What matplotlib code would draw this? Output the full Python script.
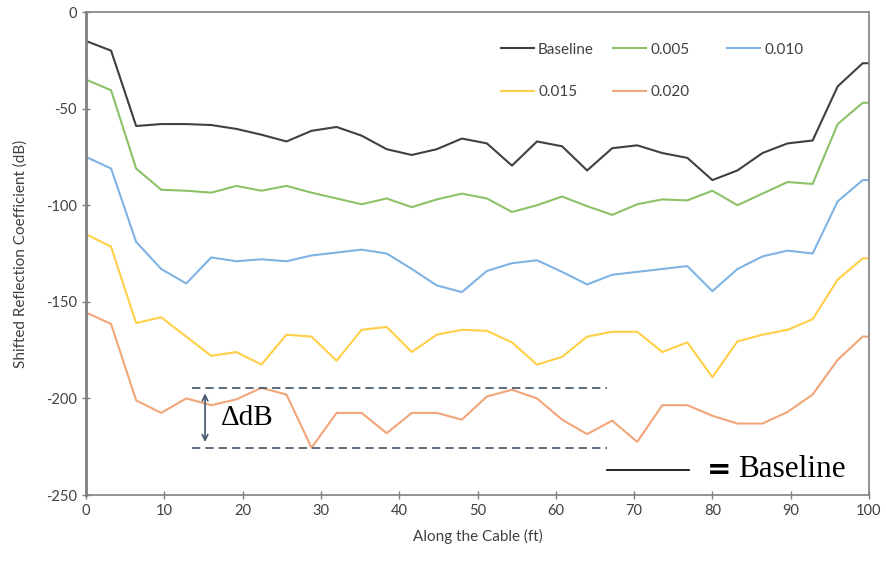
import numpy as np
import matplotlib.pyplot as plt

plt.rcParams['font.family'] = ['Lato', 'DejaVu Sans']
plt.rcParams['axes.unicode_minus'] = False

# distance along the cable (ft)
dist = [0, 3.2, 6.4, 9.6, 12.8, 16, 19.2, 22.4, 25.6, 28.8, 32, 35.2, 38.4,
        41.6, 44.8, 48, 51.2, 54.4, 57.6, 60.8, 64, 67.2, 70.4, 73.6, 76.8,
        80, 83.2, 86.4, 89.6, 92.8, 96, 99.2, 100]

# shifted reflection coefficient (dB)
baseline = [-15, -20, -59, -58, -58, -58.5, -60.5, -63.5, -67, -61.5, -59.5,
            -64, -71, -74, -71, -65.5, -68, -79.5, -67, -69.5, -82, -70.5,
            -69, -73, -75.5, -87, -82, -73, -68, -66.5, -38.5, -26.5, -26.5]
c005 = [-35, -40.5, -81, -92, -92.5, -93.5, -90, -92.5, -90, -93.5, -96.5,
        -99.5, -96.5, -101, -97, -94, -96.5, -103.5, -100, -95.5, -100.5,
        -105, -99.5, -97, -97.5, -92.5, -100, -94, -88, -89, -58, -47, -47]
c010 = [-75, -81, -119, -133, -140.5, -127, -129, -128, -129, -126, -124.5,
        -123, -125, -133, -141.5, -145, -134, -130, -128.5, -134.5, -141,
        -136, -134.5, -133, -131.5, -144.5, -133, -126.5, -123.5, -125,
        -98, -87, -87]
c015 = [-115, -121.5, -161, -158, -168, -178, -176, -182.5, -167, -168, -180.5,
        -164.5, -163, -176, -167, -164.5, -165, -171, -182.5, -178.5, -168,
        -165.5, -165.5, -176, -171, -189, -170.5, -167, -164.5, -159,
        -138.5, -127.5, -127.5]
c020 = [-155.5, -161.5, -201, -207.5, -200, -203.5, -200.5, -194.5, -198,
        -225.5, -207.5, -207.5, -218, -207.5, -207.5, -211, -199, -195.5,
        -200, -211, -218.5, -211.5, -222.5, -203.5, -203.5, -209, -213,
        -213, -207, -198, -180, -168, -168]

series = [
    ('Baseline', baseline, '#404040'),
    ('0.005', c005, '#8cc168'),
    ('0.010', c010, '#7fb3e3'),
    ('0.015', c015, '#ffcf47'),
    ('0.020', c020, '#f2a579'),
]

# range marked by the dashed guides
d_top = -194.5
d_bot = -225.5

fig = plt.figure(figsize=(8.86, 5.64), dpi=100)
ax = fig.add_axes([0.0971, 0.1223, 0.8837, 0.8564])

lines = {}
for name, vals, col in series:
    ln, = ax.plot(dist, vals, color=col, lw=1.5, label=name)
    lines[name] = ln

ax.set_xlim(0, 100)
ax.set_ylim(-250, 0)
ax.set_xticks(np.arange(0, 101, 10))
ax.set_yticks(np.arange(-250, 1, 50))
ax.tick_params(direction='inout', length=6, width=1, color='#808080',
               labelsize=10.5, labelcolor='#404040')
for s in ax.spines.values():
    s.set_color('#808080')
    s.set_linewidth(1.2)
ax.spines['left'].set_linewidth(2)

ax.set_xlabel('Along the Cable (ft)', fontsize=11, color='#404040', labelpad=8)
ax.set_ylabel('Shifted Reflection Coefficient (dB)', fontsize=11,
              color='#404040', labelpad=13)

# legend laid out in equal-width columns, filled row by row
cols = [['Baseline', '0.015'], ['0.005', '0.020'], ['0.010']]
col_x = [0.512, 0.6556, 0.8011]
for i, (names, x0) in enumerate(zip(cols, col_x)):
    leg = ax.legend([lines[k] for k in names], names, frameon=False,
                    loc='upper left', bbox_to_anchor=(x0, 0.965), fontsize=11,
                    handlelength=2.15, handletextpad=0.3, labelspacing=1.85,
                    labelcolor='#404040')
    if i < len(cols) - 1:
        ax.add_artist(leg)

# delta dB annotation
ax.hlines([d_top, d_bot], 13.5, 66.5, colors='#44546a', linestyles=(0, (5, 3)),
          lw=1.2)
ax.annotate('', xy=(15.2, d_bot + 1.5), xytext=(15.2, d_top - 1.5),
            arrowprops=dict(arrowstyle='<->', color='#44546a', lw=1.2))
ax.text(17.2, (d_top + d_bot) / 2, '\u0394dB', fontsize=21,
        family='Liberation Serif', va='center', ha='left')

ax.plot([66.5, 77], [-237, -237], color='black', lw=1.2)
ax.text(79.3, -237, '=', fontsize=21, fontweight='bold', va='center',
        ha='left', family='DejaVu Sans')
ax.text(83.3, -237, 'Baseline', fontsize=22.5, family='Liberation Serif',
        va='center', ha='left')

plt.savefig('out.png', dpi=100)
